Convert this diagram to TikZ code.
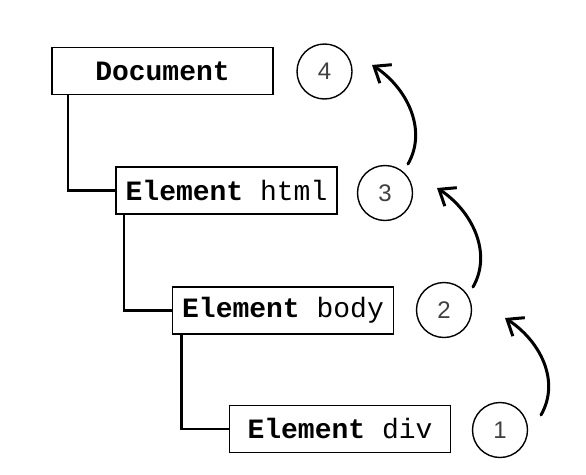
\documentclass[tikz,border=0pt]{standalone}
\usepackage{fontspec}
\setmonofont{Liberation Mono}
\newfontfamily\numfont{Liberation Sans}
\usetikzlibrary{arrows.meta}
\begin{document}
\begin{tikzpicture}[x=1pt,y=-1pt,
  box/.style={draw,line width=1.8pt,minimum width=221pt,minimum height=47pt,inner sep=0pt,
    font=\fontsize{28}{30}\selectfont\ttfamily},
  num/.style={draw,circle,line width=1.4pt,minimum size=55pt,inner sep=0pt,
    font=\fontsize{24}{26}\selectfont\numfont,text=black!75},
  link/.style={line width=2.4pt},
  arr/.style={line width=3pt,line cap=round,-{Straight Barb[length=14pt,width=22pt]}}]
\useasboundingbox (0,0) rectangle (586,474);
\node[box] (doc) at (162.5,71) {\textbf{Document}};
\node[box] (html) at (226.5,190.5) {\textbf{Element} html};
\node[box] (body) at (283,310.5) {\textbf{Element} body};
\node[box] (div) at (340,429) {\textbf{Element} div};
\node[num] (c4) at (324.5,71.5) {4};
\node[num] (c3) at (385,193) {3};
\node[num] (c2) at (444,310) {2};
\node[num] (c1) at (500,430) {1};
\draw[link] ([xshift=17pt]doc.south west) |- (html.west);
\draw[link] ([xshift=9pt]html.south west) |- (body.west);
\draw[link] ([xshift=10pt]body.south west) |- (div.west);
\coordinate (s1) at (541,415); \coordinate (e1) at (505,318);
\coordinate (s2) at (473,287); \coordinate (e2) at (437,188);
\coordinate (s3) at (408,164); \coordinate (e3) at (372,65);
\draw[arr] (s1) .. controls +(20,-35) and +(34,22) .. (e1);
\draw[arr] (s2) .. controls +(20,-35) and +(34,22) .. (e2);
\draw[arr] (s3) .. controls +(20,-35) and +(34,22) .. (e3);
\end{tikzpicture}
\end{document}
